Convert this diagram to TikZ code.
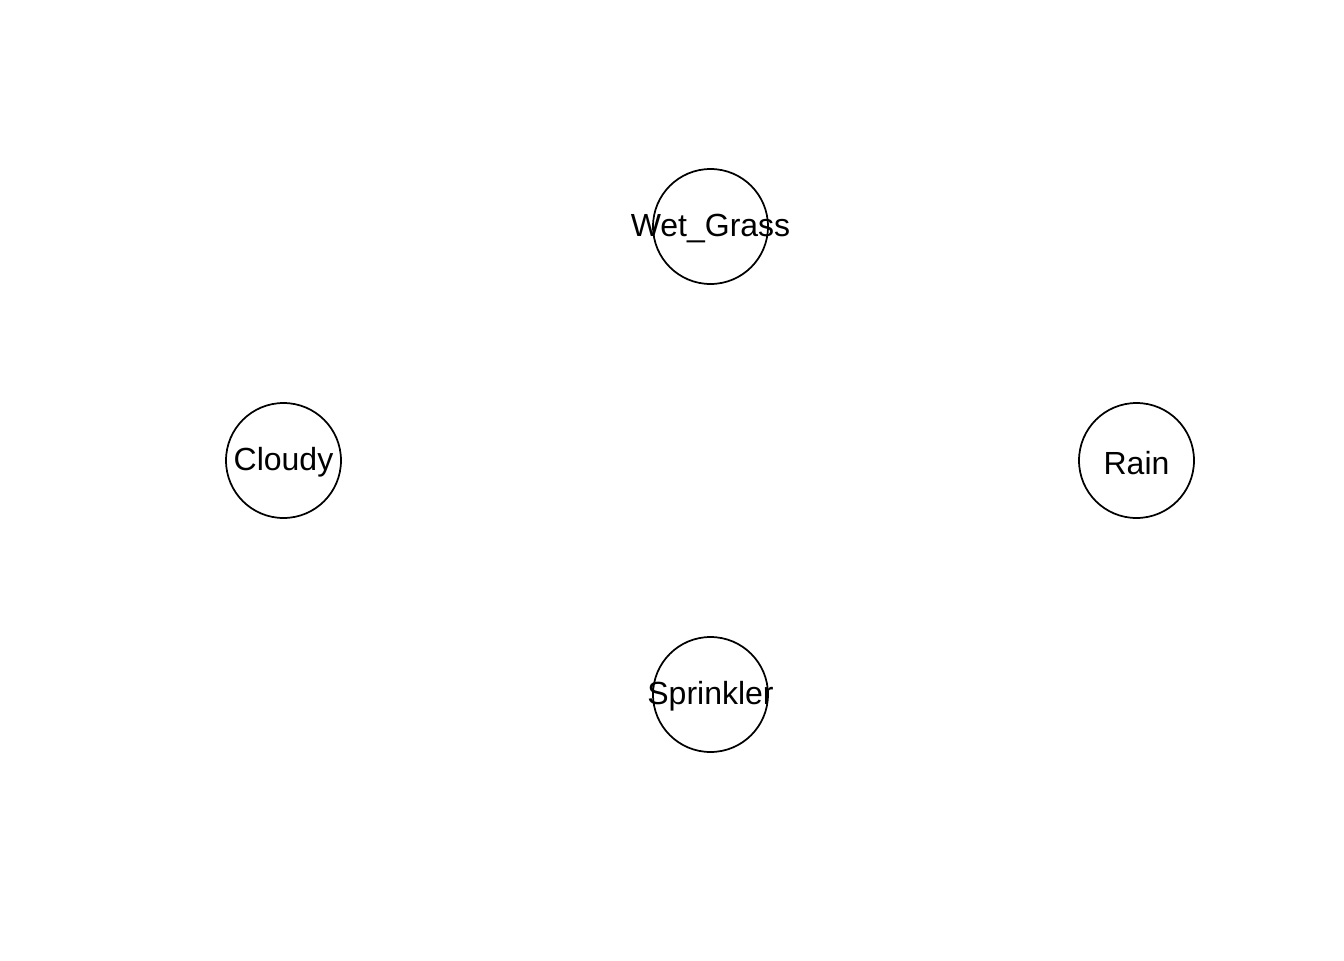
\documentclass[tikz,border=0pt]{standalone}
\usepackage{fontspec}
\setmainfont{Liberation Sans}
\tikzset{
  var/.style={circle, draw=black, line width=1.3pt, minimum size=86.25pt, inner sep=0pt},
  lbl/.style={inner sep=0pt, font=\fontsize{24}{28}\selectfont, yshift=-1.6pt}
}
\begin{document}
\begin{tikzpicture}[x=0.75pt, y=-0.75pt]
\useasboundingbox[fill=white] (0,0) rectangle (1344,960);
\node[var] (wg) at (710.5,226.5) {};
\node[var] (cl) at (283.5,460.5) {};
\node[var] (ra) at (1136.5,460.5) {};
\node[var] (sp) at (710.5,694.5) {};
\node[lbl] (wgt) at (wg.center) {Wet\_Grass};
\node[lbl] (clt) at (cl.center) {Cloudy};
\node[lbl] (rat) at (ra.center) {Rain};
\node[lbl] (spt) at (sp.center) {Sprinkler};
\end{tikzpicture}
\end{document}
